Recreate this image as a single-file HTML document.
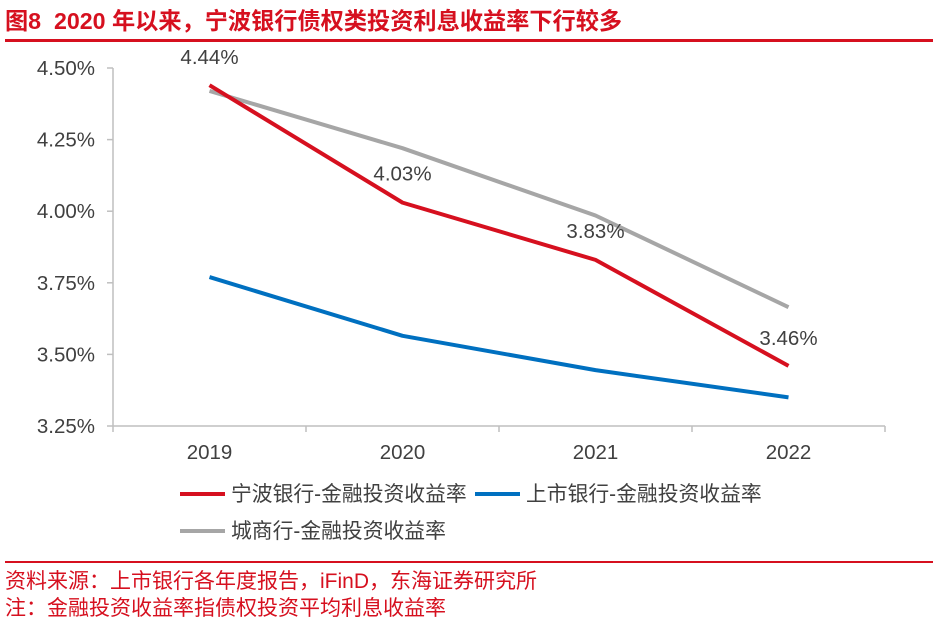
<!DOCTYPE html>
<html><head><meta charset="utf-8">
<style>
body{margin:0;background:#fff;width:933px;height:635px;overflow:hidden;font-family:"Liberation Sans","Noto Sans CJK SC",sans-serif;}
</style></head>
<body>
<svg width="933" height="635" xmlns="http://www.w3.org/2000/svg">
<text x="5" y="29" font-size="23.2" font-weight="bold" fill="#d6101f" xml:space="preserve" style="white-space:pre" font-family="Liberation Sans, Noto Sans CJK SC, sans-serif">图8  2020 年以来，宁波银行债权类投资利息收益率下行较多</text>
<rect x="5" y="39" width="928" height="3" fill="#d6101f"/>
<g id="plot"></g>
<rect x="5" y="561" width="928" height="2" fill="#d6101f"/>
<text x="5" y="588" font-size="21" fill="#d6101f" font-family="Liberation Sans, Noto Sans CJK SC, sans-serif">资料来源：上市银行各年度报告，iFinD，东海证券研究所</text>
<text x="5" y="615" font-size="21" fill="#d6101f" font-family="Liberation Sans, Noto Sans CJK SC, sans-serif">注：金融投资收益率指债权投资平均利息收益率</text>
</svg>
<script>
const categories=["2019","2020","2021","2022"];
const ningbo=[4.44,4.03,3.83,3.46];
const listed=[3.77,3.565,3.445,3.35];
const city=[4.42,4.22,3.985,3.665];
const ningboLabels=["4.44%","4.03%","3.83%","3.46%"];
const yTicks=[3.25,3.5,3.75,4.0,4.25,4.5];
const NS="http://www.w3.org/2000/svg";
const g=document.getElementById("plot");
const x0=113,x1=885,yTop=68,yBot=426,vmin=3.25,vmax=4.5;
const bw=(x1-x0)/categories.length;
const xs=i=>x0+bw*(i+0.5);
const ys=v=>yBot-(v-vmin)/(vmax-vmin)*(yBot-yTop);
function mk(t,a){const e=document.createElementNS(NS,t);for(const k in a)e.setAttribute(k,a[k]);g.appendChild(e);return e;}
let e=mk("line",{x1:x0,y1:yTop,x2:x0,y2:yBot,stroke:"#bfbfbf","stroke-width":1.5});


e=mk("line",{x1:x0,y1:yBot,x2:x1,y2:yBot,stroke:"#bfbfbf","stroke-width":1.5});


yTicks.forEach(v=>{
 const t=mk("line",{x1:x0-6,y1:ys(v),x2:x0,y2:ys(v),stroke:"#bfbfbf","stroke-width":1.5});
 
 
 const l=mk("text",{x:95,y:ys(v)+7,"text-anchor":"end","font-size":20.5,fill:"#404040"});
 l.textContent=v.toFixed(2)+"%";
 
 
});
for(let i=0;i<=categories.length;i++){
 const t=mk("line",{x1:x0+bw*i,y1:yBot,x2:x0+bw*i,y2:yBot+6,stroke:"#bfbfbf","stroke-width":1.5});
 
 
}
categories.forEach((c,i)=>{
 const l=mk("text",{x:xs(i),y:459,"text-anchor":"middle","font-size":20.5,fill:"#404040"});
 l.textContent=c;
 
 
});
function series(arr,color,name){
 const p=mk("polyline",{points:arr.map((v,i)=>xs(i)+","+ys(v)).join(" "),fill:"none",stroke:color,"stroke-width":4,"stroke-linejoin":"round"});
 
 
}
series(city,"#a6a6a6","series-city-commercial");
series(listed,"#0070c0","series-listed-banks");
series(ningbo,"#d6101f","series-ningbo");
const labOff=[[0,-21],[0,-22],[0,-22],[0,-21]];
ningbo.forEach((v,i)=>{
 const l=mk("text",{x:xs(i)+labOff[i][0],y:ys(v)+labOff[i][1],"text-anchor":"middle","font-size":20.5,fill:"#404040"});
 l.textContent=ningboLabels[i];
 
 
});
const legend=[["宁波银行-金融投资收益率","#d6101f",180,494],["上市银行-金融投资收益率","#0070c0",475,494],["城商行-金融投资收益率","#a6a6a6",180,531]];
legend.forEach(([t,c,x,y])=>{
 const ln=mk("line",{x1:x,y1:y,x2:x+45,y2:y,stroke:c,"stroke-width":4});
 
 
 const tx=mk("text",{x:x+51,y:y+7,"font-size":20.8,fill:"#404040"});
 tx.textContent=t;
 
 
});
</script>
</body></html>
